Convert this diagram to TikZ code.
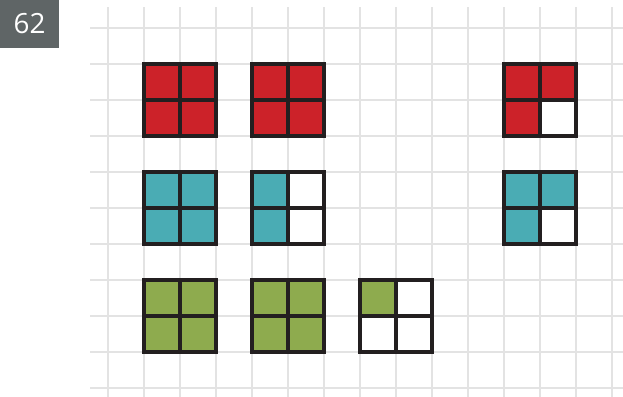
\documentclass[tikz,border=0pt]{standalone}
\usepackage{fontspec}
\newfontfamily\numfont{Open Sans}
\definecolor{blockred}{HTML}{CC2229}
\definecolor{blockteal}{HTML}{4AACB4}
\definecolor{blockgreen}{HTML}{8EAB4E}
\definecolor{edgedark}{HTML}{231F20}
\definecolor{gridgray}{HTML}{E3E3E3}
\definecolor{tagsgray}{HTML}{5F6566}
\tikzset{
  cell/.style={draw=edgedark, line width=2.9pt, minimum size=1cm, inner sep=0pt, outer sep=0pt},
}
\begin{document}
\begin{tikzpicture}
            \useasboundingbox (0,0.778) rectangle (17.306,-10.25);
            % Grid
            \foreach \x in {3,...,17}
              \draw[gridgray, line width=1.1pt] (\x,0.583) -- (\x,-10.25);
            \foreach \y in {0,...,10}
              \draw[gridgray, line width=1.1pt] (2.5,-\y) -- (17.306,-\y);

            % Tag
            \fill[tagsgray] (0,0.778) rectangle (1.639,-0.556);
            \node[text=white, font=\numfont\fontsize{22}{24}\selectfont] (tag) at (0.82,0.11) {62};

            % Red
            \node[cell, fill=blockred] (R1a) at (4.5,-1.5) {};
            \node[cell, fill=blockred] (R1b) at (5.5,-1.5) {};
            \node[cell, fill=blockred] (R1c) at (4.5,-2.5) {};
            \node[cell, fill=blockred] (R1d) at (5.5,-2.5) {};
            \node[cell, fill=blockred] (R2a) at (7.5,-1.5) {};
            \node[cell, fill=blockred] (R2b) at (8.5,-1.5) {};
            \node[cell, fill=blockred] (R2c) at (7.5,-2.5) {};
            \node[cell, fill=blockred] (R2d) at (8.5,-2.5) {};
            \node[cell, fill=blockred] (R3a) at (14.5,-1.5) {};
            \node[cell, fill=blockred] (R3b) at (15.5,-1.5) {};
            \node[cell, fill=blockred] (R3c) at (14.5,-2.5) {};
            \node[cell, fill=white] (R3d) at (15.5,-2.5) {};

            % Teal
            \node[cell, fill=blockteal] (T1a) at (4.5,-4.5) {};
            \node[cell, fill=blockteal] (T1b) at (5.5,-4.5) {};
            \node[cell, fill=blockteal] (T1c) at (4.5,-5.5) {};
            \node[cell, fill=blockteal] (T1d) at (5.5,-5.5) {};
            \node[cell, fill=blockteal] (T2a) at (7.5,-4.5) {};
            \node[cell, fill=white] (T2b) at (8.5,-4.5) {};
            \node[cell, fill=blockteal] (T2c) at (7.5,-5.5) {};
            \node[cell, fill=white] (T2d) at (8.5,-5.5) {};
            \node[cell, fill=blockteal] (T3a) at (14.5,-4.5) {};
            \node[cell, fill=blockteal] (T3b) at (15.5,-4.5) {};
            \node[cell, fill=blockteal] (T3c) at (14.5,-5.5) {};
            \node[cell, fill=white] (T3d) at (15.5,-5.5) {};

            % Green
            \node[cell, fill=blockgreen] (G1a) at (4.5,-7.5) {};
            \node[cell, fill=blockgreen] (G1b) at (5.5,-7.5) {};
            \node[cell, fill=blockgreen] (G1c) at (4.5,-8.5) {};
            \node[cell, fill=blockgreen] (G1d) at (5.5,-8.5) {};
            \node[cell, fill=blockgreen] (G2a) at (7.5,-7.5) {};
            \node[cell, fill=blockgreen] (G2b) at (8.5,-7.5) {};
            \node[cell, fill=blockgreen] (G2c) at (7.5,-8.5) {};
            \node[cell, fill=blockgreen] (G2d) at (8.5,-8.5) {};
            \node[cell, fill=blockgreen] (G3a) at (10.5,-7.5) {};
            \node[cell, fill=white] (G3b) at (11.5,-7.5) {};
            \node[cell, fill=white] (G3c) at (10.5,-8.5) {};
            \node[cell, fill=white] (G3d) at (11.5,-8.5) {};
\end{tikzpicture}
\end{document}
